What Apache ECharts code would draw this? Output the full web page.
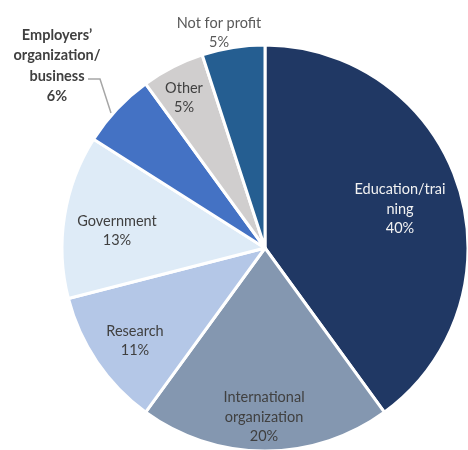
<!DOCTYPE html>
<html>
<head>
<meta charset="utf-8">
<script src="https://cdn.jsdelivr.net/npm/echarts@6/dist/echarts.min.js"></script>
<style>
  html, body { margin: 0; padding: 0; background: #fff; }
  #chart { width: 468px; height: 450px; }
</style>
</head>
<body>
<div id="chart"></div>
<script>
// Share of respondents by organization type (clockwise from 12 o'clock)
const categories = [
  'Education/training',
  'International organization',
  'Research',
  'Government',
  "Employers' organization/business",
  'Other',
  'Not for profit'
];
const shares = [40, 20, 11, 13, 6, 5, 5];
// Label text with the wrapping used on the chart
const labelNames = [
  'Education/trai\nning',
  'International\norganization',
  'Research',
  'Government',
  'Employers’\norganization/\nbusiness',
  'Other',
  'Not for profit'
];

const sliceColors = ['#203864', '#8497B0', '#B4C7E7', '#DEEBF7', '#4472C4', '#D0CECE', '#255E91'];
const textColors  = ['#F2F2F2', '#404040', '#404040', '#404040', '#404040', '#404040', '#595959'];

// Label anchor points (label centres) in pixels
const labelSpots = [
  [400, 209], [264, 417], [135, 341], [117, 231], [57, 66], [184, 98], [219, 33]
];

const chart = echarts.init(document.getElementById('chart'), null, { renderer: 'canvas' });

const data = categories.map((c, i) => {
  const item = {
    name: c,
    value: shares[i],
    itemStyle: { color: sliceColors[i] },
    label: { color: textColors[i] }
  };
  if (i === 4) {
    item.label = {
      color: textColors[i], fontWeight: 'bold', position: 'outside', lineHeight: 20.5
    };
    item.labelLine = { show: true, lineStyle: { color: '#A6A6A6', width: 1.5 } };
  }
  if (i === 6) {
    item.label = { color: textColors[i], position: 'outside' };
    item.labelLine = { show: false };
  }
  return item;
});

chart.setOption({
  animation: false,
  series: [{
    type: 'pie',
    center: [265, 248],
    radius: [0, 203],
    startAngle: 90,
    clockwise: true,
    avoidLabelOverlap: false,
    itemStyle: { borderColor: '#FFFFFF', borderWidth: 3 },
    label: {
      show: true,
      position: 'inside',
      fontFamily: 'Lato',
      fontSize: 14.5,
      lineHeight: 19.5,
      align: 'center',
      formatter: p => labelNames[p.dataIndex] + '\n' + p.value + '%'
    },
    labelLine: { show: false },
    emphasis: { disabled: true },
    labelLayout: function (p) {
      const s = labelSpots[p.dataIndex];
      const out = { x: s[0], y: s[1], align: 'center', verticalAlign: 'middle' };
      if (p.dataIndex === 4) {
        out.labelLinePoints = [[88, 79], [100, 79], [111, 113]];
      }
      return out;
    },
    data: data
  }]
});
</script>
</body>
</html>
